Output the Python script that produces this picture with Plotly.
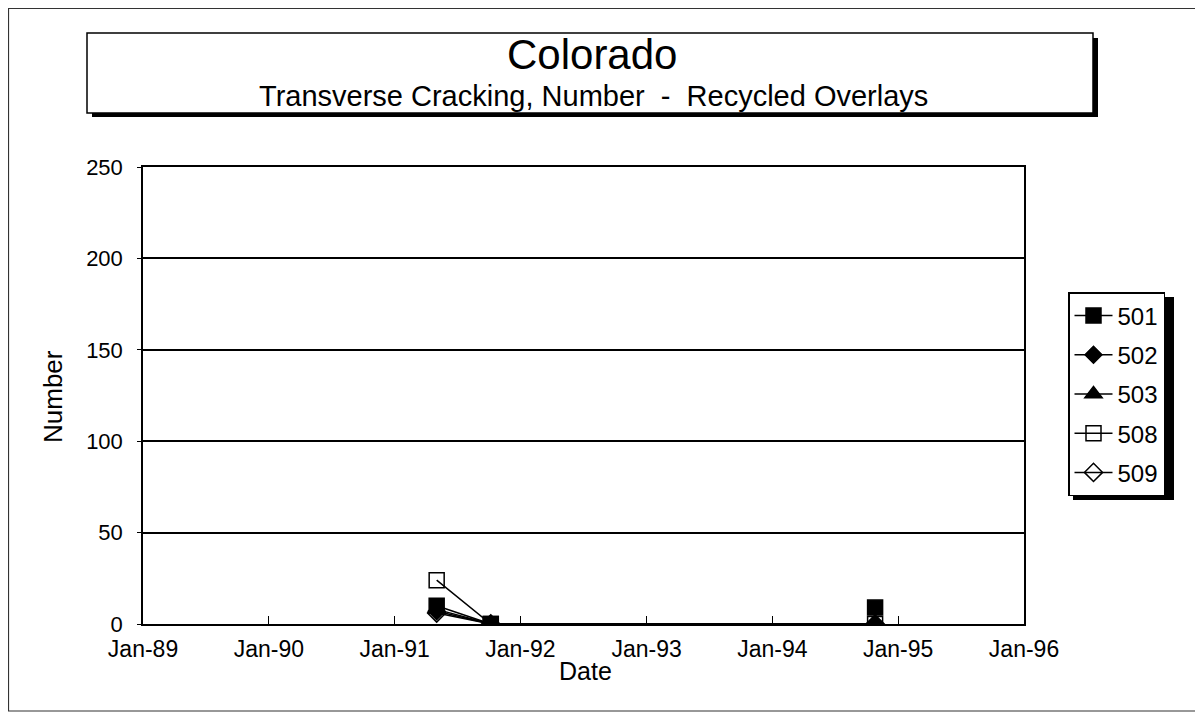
import plotly.graph_objects as go

dates = ["1991-05-03", "1991-10-07", "1993-03-01", "1994-10-26"]
series_names = ["501", "502", "503", "508", "509"]
values_501 = [10, 0, None, 9]
values_502 = [7, 0, None, 0]
values_503 = [8, 0, None, 0]
values_508 = [24, 0, None, 0]
values_509 = [6, 0, None, 0]
y_ticks = [0, 50, 100, 150, 200, 250]
x_ticks = ["1989-01-01", "1990-01-01", "1991-01-01", "1992-01-01",
           "1993-01-01", "1994-01-01", "1995-01-01", "1996-01-01"]
x_tick_labels = ["Jan-89", "Jan-90", "Jan-91", "Jan-92", "Jan-93", "Jan-94", "Jan-95", "Jan-96"]

all_values = [values_501, values_502, values_503, values_508, values_509]
symbols = ["square", "diamond", "triangle-up", "square-open", "diamond-open"]
sizes = [15, 13, 15, 15, 14]
connect = [False, True, True, True, True]

FONT = "Liberation Sans, Arial, sans-serif"

fig = go.Figure()
for name, vals, sym, sz, cg in zip(series_names, all_values, symbols, sizes, connect):
    fig.add_trace(go.Scatter(
        x=dates, y=vals, name=name, mode="lines+markers",
        connectgaps=cg,
        line=dict(color="black", width=1.5),
        marker=dict(symbol=sym, size=sz, color="black",
                    line=dict(color="black", width=1.5)),
        legendgroup=name,
    ))

OFF = 8  # page body margin
W, H = 1195, 705
L, R, T, B = 135, 179, 159, 89
pw, ph = W - L - R, H - T - B

def px(x):  # screenshot x -> paper
    return (x - OFF - L) / pw

def py(y):  # screenshot y -> paper
    return (H - B - (y - OFF)) / ph

shapes = []
# outer frame
shapes.append(dict(type="rect", xref="paper", yref="paper",
                   x0=px(8.5), x1=px(1260), y0=py(711), y1=py(8.5),
                   line=dict(color="#333", width=1.2), layer="below"))
# title box shadow + box
shapes.append(dict(type="rect", xref="paper", yref="paper",
                   x0=px(92), x1=px(1098), y0=py(117), y1=py(38),
                   line=dict(width=0), fillcolor="black", layer="below"))
shapes.append(dict(type="rect", xref="paper", yref="paper",
                   x0=px(87), x1=px(1093), y0=py(113), y1=py(33),
                   line=dict(color="black", width=1.5), fillcolor="white", layer="below"))
# legend shadow
shapes.append(dict(type="rect", xref="paper", yref="paper",
                   x0=px(1073), x1=px(1174), y0=py(500), y1=py(297),
                   line=dict(width=0), fillcolor="black", layer="below"))

annotations = [
    dict(text="Colorado", x=px(592), y=py(55), xref="paper", yref="paper",
         showarrow=False, font=dict(family=FONT, size=42, color="black"),
         xanchor="center", yanchor="middle"),
    dict(text="Transverse Cracking, Number  -  Recycled Overlays", x=px(593), y=py(96),
         xref="paper", yref="paper", showarrow=False,
         font=dict(family=FONT, size=29, color="black"),
         xanchor="center", yanchor="middle"),
    dict(text="Number", x=px(53), y=py(397), xref="paper", yref="paper",
         showarrow=False, textangle=-90,
         font=dict(family=FONT, size=26, color="black"),
         xanchor="center", yanchor="middle"),
    dict(text="Date", x=px(585), y=py(671), xref="paper", yref="paper",
         showarrow=False, font=dict(family=FONT, size=25, color="black"),
         xanchor="center", yanchor="middle"),
]

fig.update_layout(
    width=W, height=H,
    margin=dict(l=L, r=R, t=T, b=B, pad=0),
    paper_bgcolor="white", plot_bgcolor="white",
    font=dict(family=FONT, color="black", size=20),
    showlegend=True,
    legend=dict(x=px(1068), y=py(292), xanchor="left", yanchor="top",
                bgcolor="white", bordercolor="black", borderwidth=1.5,
                font=dict(family=FONT, size=24, color="black"),
                tracegroupgap=5, itemwidth=38,
                traceorder="grouped"),
    shapes=shapes,
    annotations=annotations,
)

fig.update_xaxes(
    type="date", range=["1989-01-01", "1996-01-01"],
    tickvals=x_ticks, ticktext=x_tick_labels,
    ticks="inside", ticklen=8, tickwidth=1.2, tickcolor="black",
    ticklabelstandoff=4,
    showline=True, linecolor="black", linewidth=1.5, mirror=True,
    showgrid=False, zeroline=False,
    tickfont=dict(family=FONT, size=23, color="black"),
)
fig.update_yaxes(
    range=[0, 250], tickvals=y_ticks,
    ticks="outside", ticklen=4, tickcolor="black",
    ticklabelstandoff=10,
    showline=True, linecolor="black", linewidth=1.5, mirror=True,
    showgrid=True, gridcolor="black", gridwidth=2, zeroline=False,
    tickfont=dict(family=FONT, size=22, color="black"),
)

fig.write_html("out.html")
